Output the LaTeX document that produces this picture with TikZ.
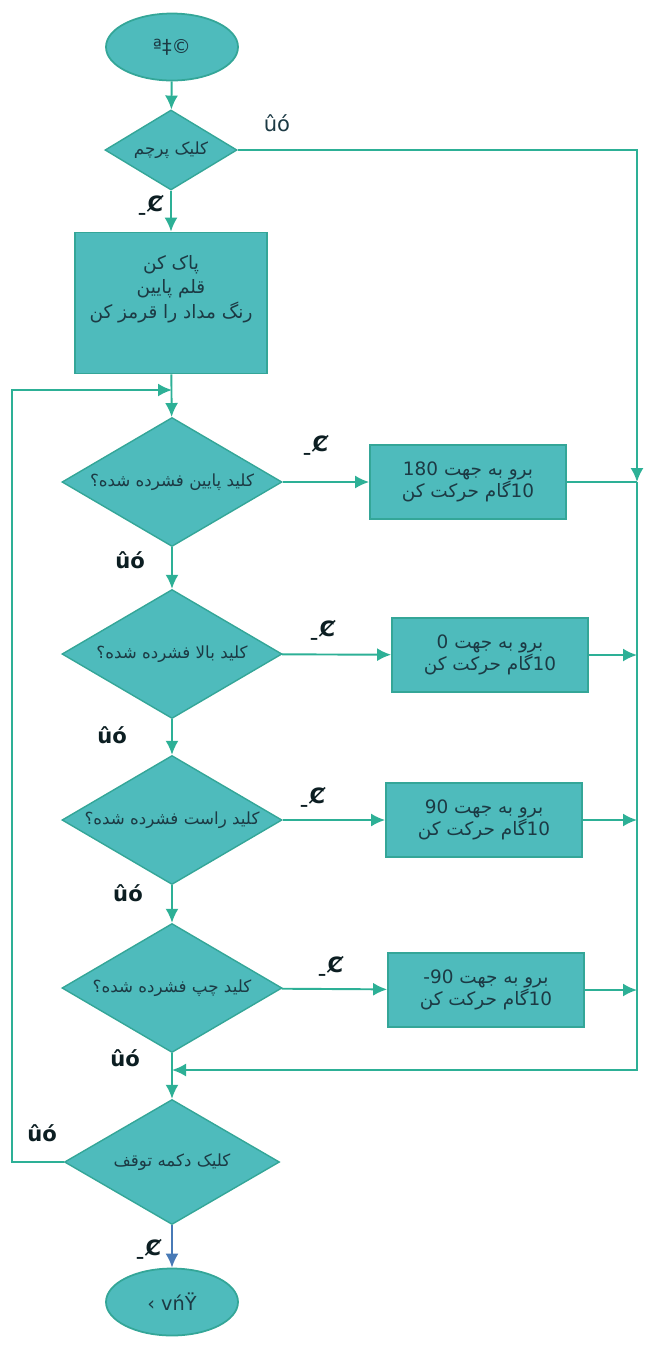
\documentclass[tikz,border=0pt]{standalone}
\usepackage{fontspec}
\usepackage{tikz}
\usetikzlibrary{shapes.geometric,arrows.meta,positioning}
\newfontfamily\arabicfont[Script=Arabic]{DejaVu Sans}
\newfontfamily\labelfont{DejaVu Sans}
\TeXXeTstate=1
\definecolor{tealfill}{RGB}{78,187,188}
\definecolor{tealedge}{RGB}{52,166,152}
\definecolor{tealline}{RGB}{45,176,150}
\definecolor{nodetext}{RGB}{28,58,68}
\definecolor{endline}{RGB}{72,122,182}
\definecolor{labelink}{RGB}{12,30,34}

\begin{document}
\begin{tikzpicture}[x=0.2mm,y=-0.2mm,
    flow/.style={draw=tealline,line width=1.1pt,-{Latex[length=2.8mm,width=2.6mm]}},
    bus/.style={draw=tealline,line width=1.1pt},
    terminal/.style={ellipse,fill=tealfill,draw=tealedge,line width=1pt,minimum width=2.64cm,minimum height=1.34cm,inner sep=0pt,text=nodetext,font=\labelfont\fontsize{11}{13}\selectfont},
    decision/.style={diamond,aspect=1.7,fill=tealfill,draw=tealedge,line width=0.8pt,minimum width=4.4cm,minimum height=2.58cm,inner sep=0pt,text=nodetext,font=\arabicfont\fontsize{9.5}{11}\selectfont},
    action/.style={rectangle,fill=tealfill,draw=tealedge,line width=1pt,minimum width=3.92cm,minimum height=1.48cm,align=center,text=nodetext,font=\arabicfont\fontsize{10.5}{12.5}\selectfont},
    answer/.style={text=labelink,font=\labelfont\bfseries\fontsize{12}{14}\selectfont,inner sep=0pt}]
  \useasboundingbox (0,0) rectangle (646,1352);

  % start / stop
  \node[terminal] (start) at (172,47) {ª‡©};
  \node[terminal] (finish) at (172,1302) {‹ vńŸ};

  % decisions
  \node[decision,minimum width=2.64cm,minimum height=1.6cm] (flag) at (171,150) {\beginR کلیک پرچم\endR};
  \node[decision] (down) at (172,482) {\beginR کلید پایین فشرده شده؟\endR};
  \node[decision] (up) at (172,654) {\beginR کلید بالا فشرده شده؟\endR};
  \node[decision] (right) at (172,820) {\beginR کلید راست فشرده شده؟\endR};
  \node[decision] (left) at (172,988) {\beginR کلید چپ فشرده شده؟\endR};
  \node[decision,minimum width=4.3cm,minimum height=2.5cm] (stop) at (172,1162) {\beginR کلیک دکمه توقف\endR};

  % actions
  \node[action,minimum width=3.84cm,minimum height=2.82cm,font=\arabicfont\fontsize{10.5}{14}\selectfont] (init) at (171,303)
    {\beginR پاک کن\endR\\ \beginR قلم پایین\endR\\ \beginR رنگ مداد را قرمز کن\endR\\[1.5mm]};
  \node[action] (godown) at (468,482) {\beginR برو به جهت 180\endR\\ \beginR 10گام حرکت کن\endR};
  \node[action] (goup) at (490,655) {\beginR برو به جهت 0\endR\\ \beginR 10گام حرکت کن\endR};
  \node[action] (goright) at (484,820) {\beginR برو به جهت 90\endR\\ \beginR 10گام حرکت کن\endR};
  \node[action] (goleft) at (486,990) {\beginR برو به جهت \beginL 90-\endL\endR\\ \beginR 10گام حرکت کن\endR};

  % bus points
  \coordinate (j1) at (637,482);
  \coordinate (j2) at (637,655);
  \coordinate (j3) at (637,820);
  \coordinate (j4) at (637,990);
  \coordinate (back) at (172,1070);
  \coordinate (again) at (172,390);
  \coordinate (loop) at (12,390);

  % main line
  \draw[flow] (start) -- (flag);
  \draw[flow] (flag) -- (init);
  \draw[flow] (init) -- (down);
  \draw[flow] (down) -- (up);
  \draw[flow] (up) -- (right);
  \draw[flow] (right) -- (left);
  \draw[flow] (left) -- (stop);
  \draw[flow,draw=endline,-{Latex[length=2.8mm,width=2.6mm,fill=endline]}] (stop) -- (finish);

  % yes branches
  \draw[flow] (down) -- (godown);
  \draw[flow] (up) -- (goup);
  \draw[flow] (right) -- (goright);
  \draw[flow] (left) -- (goleft);

  % right bus
  \draw[flow] (flag.east) -| (j1);
  \draw[bus] (godown) -- (j1);
  \draw[flow] (goup) -- (j2);
  \draw[flow] (goright) -- (j3);
  \draw[flow] (goleft) -- (j4);
  \draw[flow] (j1) |- (back);

  % loop back
  \draw[flow] (stop.west) -| (loop) |- (again);

  % answers
  \node[answer,font=\labelfont\fontsize{12}{14}\selectfont,text=nodetext] (no0) at (277,123) {ûó};
  \node[answer] (yes0) at (150,205) {ˍȻ};
  \node[answer] (yes1) at (315,445) {ˍȻ};
  \node[answer] (no1) at (130,560) {ûó};
  \node[answer] (yes2) at (322,630) {ˍȻ};
  \node[answer] (no2) at (112,735) {ûó};
  \node[answer] (yes3) at (312,797) {ˍȻ};
  \node[answer] (no3) at (128,893) {ûó};
  \node[answer] (yes4) at (330,966) {ˍȻ};
  \node[answer] (no4) at (125,1058) {ûó};
  \node[answer] (no5) at (42,1133) {ûó};
  \node[answer] (yes5) at (148,1249) {ˍȻ};
\end{tikzpicture}
\end{document}
